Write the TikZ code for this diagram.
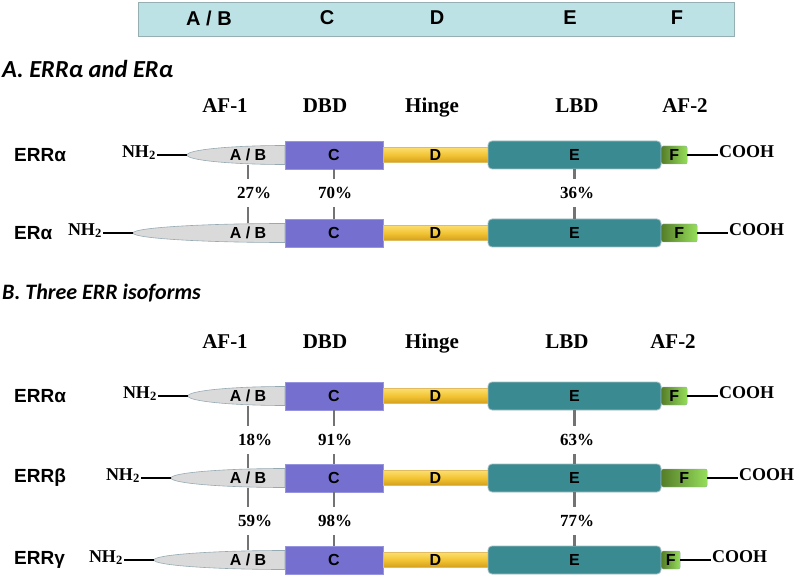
\documentclass[tikz,border=0pt]{standalone}
\usepackage{fontspec}
\setmainfont{Liberation Serif}
\newfontfamily\arialfont{Liberation Sans}
\newfontfamily\califont{Carlito}
\usepackage{tikz}
\usetikzlibrary{positioning, calc}
\definecolor{barcyan}{RGB}{188,226,230}
\definecolor{baredge}{RGB}{150,175,178}
\definecolor{abgrey}{RGB}{218,218,218}
\definecolor{abedge}{RGB}{150,170,180}
\definecolor{dbdblue}{RGB}{117,112,208}
\definecolor{dbdedge}{RGB}{150,148,225}
\definecolor{hingetop}{RGB}{252,222,110}
\definecolor{hingemid}{RGB}{242,196,52}
\definecolor{hingebot}{RGB}{212,158,28}
\definecolor{lbdteal}{RGB}{58,138,145}
\definecolor{lbdedge}{RGB}{165,190,192}
\definecolor{afdark}{RGB}{85,125,40}
\definecolor{aflight}{RGB}{150,222,90}
\definecolor{linkgrey}{RGB}{115,115,115}

\begin{document}
\begin{tikzpicture}[x=1pt, y=-1pt,
    dom/.style={font=\arialfont\bfseries\fontsize{16}{18}\selectfont, inner sep=0pt},
    barlab/.style={font=\arialfont\bfseries\fontsize{20}{22}\selectfont, inner sep=0pt},
    hdr/.style={font=\bfseries\fontsize{21}{24}\selectfont, inner sep=0pt, anchor=base},
    ttl/.style={font=\califont\bfseries\itshape\fontsize{22}{26}\selectfont, anchor=west, inner sep=0pt},
    rowlab/.style={font=\arialfont\bfseries\fontsize{19}{22}\selectfont, anchor=west, inner sep=0pt},
    term/.style={font=\bfseries\fontsize{18}{20}\selectfont, inner sep=1pt},
    pct/.style={font=\bfseries\fontsize{17}{20}\selectfont, minimum height=28pt, inner sep=0pt},
    cbox/.style={dom, draw=dbdedge, fill=dbdblue, minimum width=98pt, minimum height=28pt},
    dbar/.style={dom, draw=hingebot!70, top color=hingetop, bottom color=hingebot, middle color=hingemid, minimum width=105pt, minimum height=15pt},
    ebox/.style={dom, draw=lbdedge, line width=0.8pt, fill=lbdteal, rounded corners=4pt, minimum width=173pt, minimum height=28pt},
    fbox/.style={dom, draw=abedge, left color=afdark, right color=aflight, rounded corners=2pt, minimum height=18pt, anchor=west},
    link/.style={draw=linkgrey, line width=2.5pt},
    tail/.style={draw=black, line width=1.2pt}
]
\useasboundingbox (0,0) rectangle (796,575);

% Domain bar on top
\node[draw=baredge, fill=barcyan, minimum width=596pt, minimum height=34pt] (bar) at (436,19) {};
\node[barlab] (barab) at (209,18) {A / B};
\node[barlab] (barc)  at (327,18) {C};
\node[barlab] (bard)  at (437,18) {D};
\node[barlab] (bare)  at (570,18) {E};
\node[barlab] (barf)  at (677,18) {F};

% Section titles
\node[ttl, font=\califont\bfseries\itshape\fontsize{24.5}{28}\selectfont] (ttlA) at (2,69) {A. ERRα and ERα};
\node[ttl] (ttlB) at (2,293) {B. Three ERR isoforms};

% Column headers
\node[hdr] (hA1) at (225,113) {AF-1};
\node[hdr] (hA2) at (325,113) {DBD};
\node[hdr] (hA3) at (432,113) {Hinge};
\node[hdr] (hA4) at (577,113) {LBD};
\node[hdr] (hA5) at (685,113) {AF-2};
\node[hdr] (hB1) at (225,348) {AF-1};
\node[hdr] (hB2) at (325,348) {DBD};
\node[hdr] (hB3) at (432,348) {Hinge};
\node[hdr] (hB4) at (567,348) {LBD};
\node[hdr] (hB5) at (673,348) {AF-2};

% Receptor rows: name / y / tip of A-B / end of F / label
\foreach \n/\yc/\tip/\fend/\lab in {Aa/155/187/687/ERRα, Ab/233/133/697/ERα,
    Ba/396/188/687/ERRα, Bb/478/171/707/ERRβ, Bc/560/154/680/ERRγ}{
  \pgfmathsetmacro\fw{\fend-661}
  \node[rowlab] (\n-lab) at (14,\yc) {\lab};
  \fill[abgrey, draw=abedge, line width=0.6pt] (285,\yc-9.5)
    arc[start angle=90, end angle=270, x radius={285pt-\tip pt}, y radius=9.5pt] -- cycle;
  \coordinate (\n-tip) at (\tip,\yc);
  \node[dom, minimum height=19pt] (\n-ab) at (248,\yc) {A / B};
  \node[cbox] (\n-c) at (334,\yc) {C};
  \node[dbar] (\n-d) at (435.5,\yc) {D};
  \node[ebox] (\n-e) at (574.5,\yc) {E};
  \node[fbox, minimum width=\fw pt] (\n-f) at (661,\yc) {F};
  \node[term, anchor=mid east] (\n-nh) at ({\tip-30},\yc) {NH\textsubscript{2}};
  \node[term, anchor=mid west] (\n-co) at ({\fend+31},\yc) {COOH};
  \draw[tail] (\n-nh.mid east) -- (\n-tip);
  \draw[tail] (\n-f.east) -- (\n-co.mid west);
}

% Identity links: upper / lower / domain / x / y / value
\foreach \up/\lo/\d/\px/\py/\val in {Aa/Ab/ab/254/193/27, Aa/Ab/c/335/193/70, Aa/Ab/e/577/193/36,
    Ba/Bb/ab/255/440/18, Ba/Bb/c/335/440/91, Ba/Bb/e/577/440/63,
    Bb/Bc/ab/255/521/59, Bb/Bc/c/335/521/98, Bb/Bc/e/577/521/77}{
  \node[pct] (\up-\d-p) at (\px,\py) {\val\%};
  \draw[link] (\up-\d.south) -- (\up-\d.south |- \up-\d-p.north);
  \draw[link] (\lo-\d.north |- \up-\d-p.south) -- (\lo-\d.north);
}
\end{tikzpicture}
\end{document}
